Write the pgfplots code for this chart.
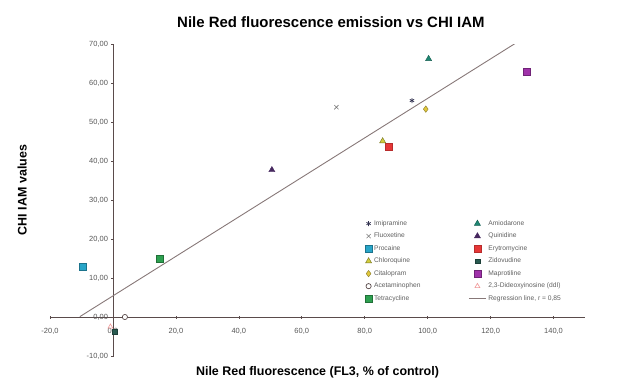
\documentclass[border=0pt]{standalone}
\usepackage{pgfplots}
\pgfplotsset{compat=1.18}
\usepackage{fontspec}
\setmainfont{Liberation Sans}

\definecolor{axisgray}{RGB}{90,75,75}
\definecolor{regcol}{RGB}{135,120,120}
\definecolor{tickgray}{RGB}{85,85,85}
\definecolor{leggray}{RGB}{95,95,95}
\definecolor{imicol}{RGB}{50,50,80}
\definecolor{fluocol}{RGB}{120,120,120}
\definecolor{procol}{RGB}{40,165,200}
\definecolor{chlcol}{RGB}{210,205,60}
\definecolor{citcol}{RGB}{225,200,60}
\definecolor{tetcol}{RGB}{45,160,80}
\definecolor{amicol}{RGB}{30,135,115}
\definecolor{quicol}{RGB}{70,40,95}
\definecolor{erycol}{RGB}{230,55,55}
\definecolor{zidcol}{RGB}{40,90,80}
\definecolor{mapcol}{RGB}{160,50,170}
\definecolor{ddicol}{RGB}{240,150,150}

\begin{document}
\begin{tikzpicture}[x=1bp,y=1bp]
\path[use as bounding box] (-50,-25) rectangle (569,356);
\begin{axis}[
    at={(0,0)}, anchor=south west,
    scale only axis,
    width=535bp, height=312bp,
    xmin=-20, xmax=150,
    ymin=-10, ymax=70,
    axis lines=middle,
    axis line style={-, draw=axisgray, line width=0.8bp},
    xtick={-20,0,...,140},
    ytick={-10,0,...,70},
    hide obscured x ticks=false,
    hide obscured y ticks=false,
    tick style={draw=axisgray, line width=0.6bp},
    major tick length=3bp,
    /pgf/number format/assume math mode=true,
    ticklabel style={font=\fontsize{7.5}{9}\selectfont, text=tickgray},
    x tick label style={yshift=-6bp, /pgf/number format/.cd, fixed, fixed zerofill, precision=1, use comma, 1000 sep={}},
    y tick label style={/pgf/number format/.cd, fixed, fixed zerofill, precision=2, use comma, 1000 sep={}},
    title={Nile Red fluorescence emission vs CHI IAM},
    title style={at={(axis description cs:0.525,1.052)}, anchor=center, font=\bfseries\fontsize{15}{17}\selectfont},
    xlabel={Nile Red fluorescence (FL3, \% of control)},
    xlabel style={at={(axis description cs:0.5,-0.051)}, anchor=center, font=\bfseries\fontsize{12.5}{14}\selectfont},
    ylabel={CHI IAM values},
    ylabel style={at={(axis description cs:-0.052,0.532)}, anchor=center, rotate=90, font=\bfseries\fontsize{12.5}{14}\selectfont},
    legend columns=2,
    legend cell align=left,
    legend style={at={(axis description cs:0.583,0.448)}, anchor=north west,
        draw=none, fill=none, font=\fontsize{6.7}{8}\selectfont, text=leggray,
        row sep=2.2bp,
        /tikz/column 2/.style={column sep=46bp}},
  ]

  % Imipramine
  \addplot[only marks, mark=asterisk, mark size=2.5bp, draw=imicol, line width=0.7bp] coordinates {(95,55.5)};
  % Amiodarone
  \addplot[only marks, mark=triangle*, mark size=3.5bp, draw=amicol!70!black, fill=amicol] coordinates {(100.3,66.2)};
  % Fluoxetine
  \addplot[only marks, mark=x, mark size=3bp, draw=fluocol, line width=0.6bp] coordinates {(71,53.8)};
  % Quinidine
  \addplot[only marks, mark=triangle*, mark size=3.5bp, draw=quicol, fill=quicol] coordinates {(50.5,37.7)};
  % Procaine
  \addplot[only marks, mark=square*, mark size=3.5bp, draw=procol!70!black, fill=procol] coordinates {(-9.5,12.8)};
  % Erythromycin
  \addplot[only marks, mark=square*, mark size=3.5bp, draw=erycol!80!black, fill=erycol] coordinates {(87.6,43.6)};
  % Chloroquine
  \addplot[only marks, mark=triangle*, mark size=3.5bp, draw=chlcol!55!black, fill=chlcol] coordinates {(85.7,45.1)};
  % Zidovudine
  \addplot[only marks, mark=square*, mark size=2.3bp, draw=zidcol!70!black, fill=zidcol] coordinates {(0.6,-3.8)};
  % Citalopram
  \addplot[only marks, mark=diamond*, mark size=3.2bp, draw=citcol!60!black, fill=citcol] coordinates {(99.4,53.3)};
  % Maprotiline
  \addplot[only marks, mark=square*, mark size=3.5bp, draw=mapcol!70!black, fill=mapcol] coordinates {(131.4,62.8)};
  % Acetaminophen
  \addplot[only marks, mark=*, mark size=2.6bp, draw=axisgray, fill=white, line width=0.7bp] coordinates {(3.8,0)};
  % 2,3-Dideoxyinosine
  \addplot[only marks, mark=triangle, mark size=2.8bp, draw=ddicol, line width=0.6bp] coordinates {(-0.8,-2.5)};
  % Tetracycline
  \addplot[only marks, mark=square*, mark size=3.5bp, draw=tetcol!70!black, fill=tetcol] coordinates {(14.9,14.9)};
  % regression line
  \addplot[no marks, draw=regcol, line width=0.9bp] coordinates {(-10.5,0.1) (129.7,71.1)};

  \legend{Imipramine, Amiodarone, Fluoxetine, Quinidine, Procaine, Erytromycine,
    Chloroquine, Zidovudine, Citalopram, Maprotiline, Acetaminophen,
    {2,3-Dideoxyinosine (ddI)}, Tetracycline, {Regression line, r = 0,85}}
\end{axis}
\end{tikzpicture}
\end{document}
